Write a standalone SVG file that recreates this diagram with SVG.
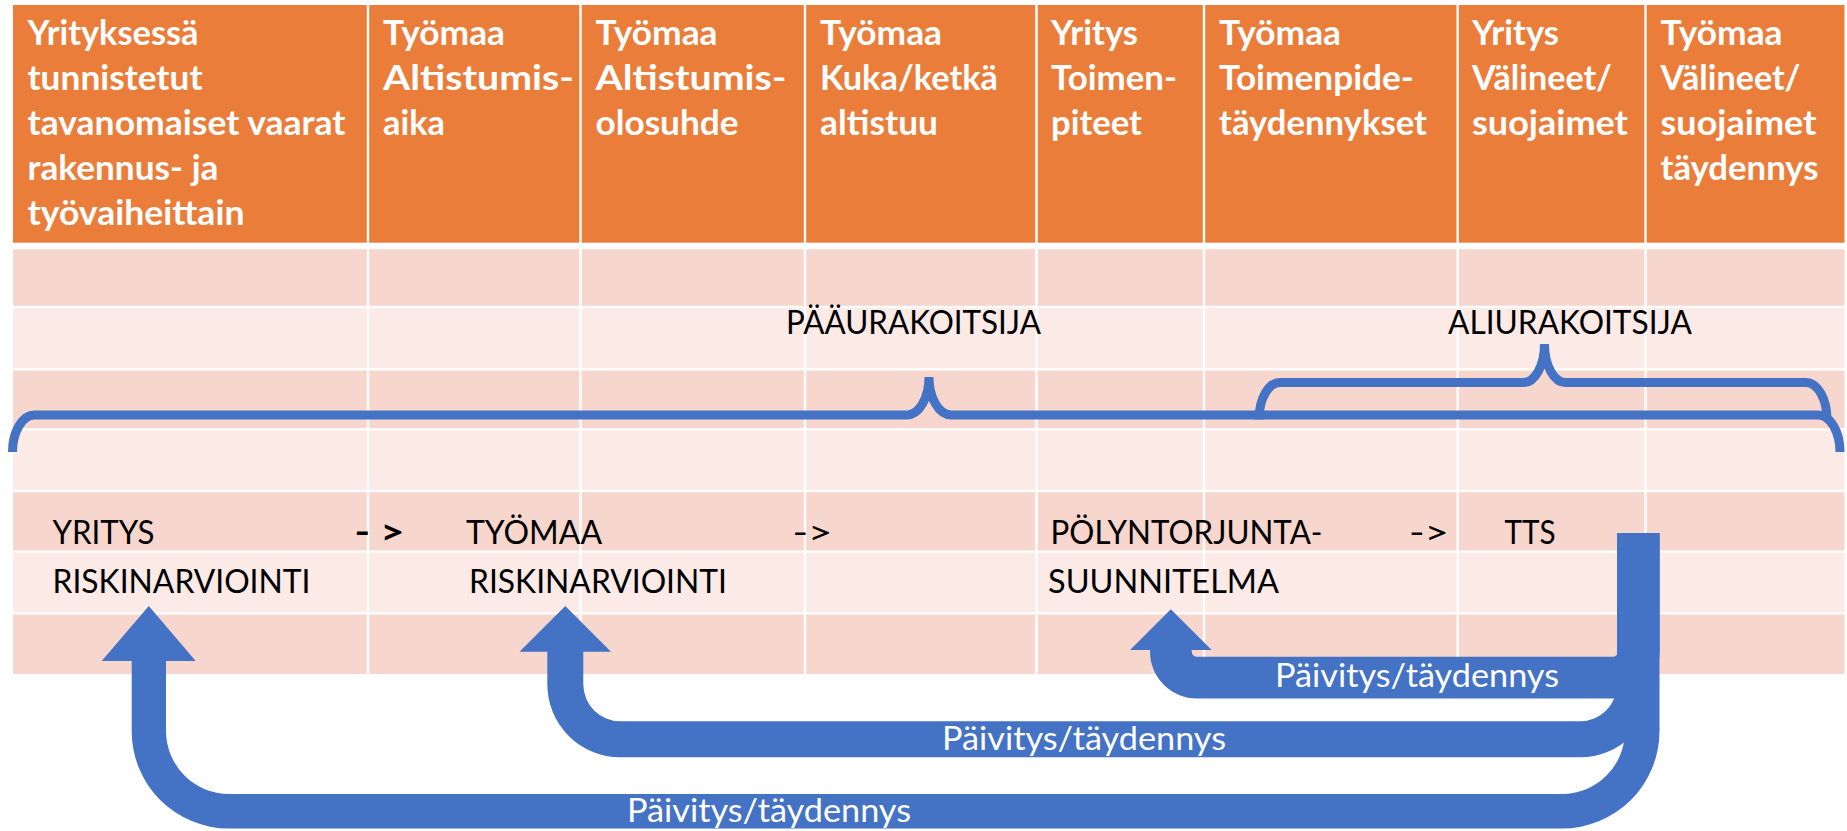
<svg xmlns="http://www.w3.org/2000/svg" width="1847" height="831" viewBox="0 0 1847 831">
<style>
.hdr{font-family:Lato,"Liberation Sans",sans-serif;font-weight:700;font-size:33.5px;fill:#fff}
.lbl{font-family:Lato,"Liberation Sans",sans-serif;font-size:33.5px;fill:#000}
.bold{font-weight:700}
.bartxt{font-family:Lato,"Liberation Sans",sans-serif;font-size:32.5px;fill:#fff}
.dark{fill:#F7D6CD}
.light{fill:#FBEAE6}
.head{fill:#EB7D3B}
.div{stroke:#fff;stroke-width:2.4}
.brace{fill:none;stroke:#4472C4;stroke-width:9;stroke-linejoin:miter;stroke-miterlimit:4}
.arrow{fill:#4472C4}
</style>
<rect width="1847" height="831" fill="#fff"/>
<g id="table">
  <rect class="head" x="13" y="5" width="1831.5" height="237.7"/>
  <rect class="dark" x="13" y="249.3" width="1831.5" height="56.5"/>
  <rect class="light" x="13" y="308.2" width="1831.5" height="60"/>
  <rect class="dark" x="13" y="370.5" width="1831.5" height="57.7"/>
  <rect class="light" x="13" y="430.5" width="1831.5" height="59.4"/>
  <rect class="dark" x="13" y="492.2" width="1831.5" height="58.3"/>
  <rect class="light" x="13" y="552.8" width="1831.5" height="59.4"/>
  <rect class="dark" x="13" y="614.5" width="1831.5" height="59.5"/>
  <g class="div">
    <line x1="368" y1="5" x2="368" y2="674"/>
    <line x1="580.5" y1="5" x2="580.5" y2="674"/>
    <line x1="805" y1="5" x2="805" y2="674"/>
    <line x1="1036.5" y1="5" x2="1036.5" y2="674"/>
    <line x1="1204" y1="5" x2="1204" y2="674"/>
    <line x1="1457.7" y1="5" x2="1457.7" y2="674"/>
    <line x1="1645.5" y1="5" x2="1645.5" y2="674"/>
  </g>
</g>
<g id="h1" class="hdr">
  <text x="27.5" y="45" textLength="171" lengthAdjust="spacingAndGlyphs">Yrityksessä</text>
  <text x="27.5" y="90" textLength="175" lengthAdjust="spacingAndGlyphs">tunnistetut</text>
  <text x="27.5" y="135" textLength="318" lengthAdjust="spacingAndGlyphs">tavanomaiset vaarat</text>
  <text x="27.5" y="180" textLength="191" lengthAdjust="spacingAndGlyphs">rakennus- ja</text>
  <text x="27.5" y="225" textLength="217" lengthAdjust="spacingAndGlyphs">työvaiheittain</text>
</g>
<g id="h2" class="hdr">
  <text x="383" y="45" textLength="122" lengthAdjust="spacingAndGlyphs">Työmaa</text>
  <text x="383" y="90" textLength="191" lengthAdjust="spacingAndGlyphs">Altistumis-</text>
  <text x="383" y="135" textLength="62" lengthAdjust="spacingAndGlyphs">aika</text>
</g>
<g id="h3" class="hdr">
  <text x="595.5" y="45" textLength="122" lengthAdjust="spacingAndGlyphs">Työmaa</text>
  <text x="595.5" y="90" textLength="191" lengthAdjust="spacingAndGlyphs">Altistumis-</text>
  <text x="595.5" y="135" textLength="143" lengthAdjust="spacingAndGlyphs">olosuhde</text>
</g>
<g id="h4" class="hdr">
  <text x="820" y="45" textLength="122" lengthAdjust="spacingAndGlyphs">Työmaa</text>
  <text x="820" y="90" textLength="178" lengthAdjust="spacingAndGlyphs">Kuka/ketkä</text>
  <text x="820" y="135" textLength="118" lengthAdjust="spacingAndGlyphs">altistuu</text>
</g>
<g id="h5" class="hdr">
  <text x="1051" y="45" textLength="87" lengthAdjust="spacingAndGlyphs">Yritys</text>
  <text x="1051" y="90" textLength="126" lengthAdjust="spacingAndGlyphs">Toimen-</text>
  <text x="1051" y="135" textLength="91" lengthAdjust="spacingAndGlyphs">piteet</text>
</g>
<g id="h6" class="hdr">
  <text x="1219" y="45" textLength="122" lengthAdjust="spacingAndGlyphs">Työmaa</text>
  <text x="1219" y="90" textLength="195" lengthAdjust="spacingAndGlyphs">Toimenpide-</text>
  <text x="1219" y="135" textLength="208" lengthAdjust="spacingAndGlyphs">täydennykset</text>
</g>
<g id="h7" class="hdr">
  <text x="1472" y="45" textLength="87" lengthAdjust="spacingAndGlyphs">Yritys</text>
  <text x="1472" y="90" textLength="140" lengthAdjust="spacingAndGlyphs">Välineet/</text>
  <text x="1472" y="135" textLength="156" lengthAdjust="spacingAndGlyphs">suojaimet</text>
</g>
<g id="h8" class="hdr">
  <text x="1660.5" y="45" textLength="122" lengthAdjust="spacingAndGlyphs">Työmaa</text>
  <text x="1660.5" y="90" textLength="140" lengthAdjust="spacingAndGlyphs">Välineet/</text>
  <text x="1660.5" y="135" textLength="156" lengthAdjust="spacingAndGlyphs">suojaimet</text>
  <text x="1660.5" y="180" textLength="158" lengthAdjust="spacingAndGlyphs">täydennys</text>
</g>
<g id="paaurakoitsija" class="lbl">
  <text x="786" y="334" textLength="255" lengthAdjust="spacingAndGlyphs">PÄÄURAKOITSIJA</text>
</g>
<g id="aliurakoitsija" class="lbl">
  <text x="1448" y="334" textLength="244" lengthAdjust="spacingAndGlyphs">ALIURAKOITSIJA</text>
</g>
<g id="braces">
  <path class="brace" d="M 12.5 452 A 22 37 0 0 1 34.5 415 L 907 415 A 22 38 0 0 0 929 377 A 22 38 0 0 0 951 415 L 1818 415 A 22 37 0 0 1 1840 452"/>
  <path class="brace" d="M 1259 419.5 A 21 37 0 0 1 1280 382.5 L 1523.5 382.5 A 21 38.5 0 0 0 1544.5 344 A 21 38.5 0 0 0 1565.5 382.5 L 1806 382.5 A 21 37 0 0 1 1827 419.5"/>
</g>
<g id="yritys-riski" class="lbl">
  <text x="52.5" y="544" textLength="102" lengthAdjust="spacingAndGlyphs">YRITYS</text>
  <text x="52.5" y="593" textLength="258" lengthAdjust="spacingAndGlyphs">RISKINARVIOINTI</text>
</g>
<g id="tyomaa-riski" class="lbl">
  <text x="466" y="544" textLength="136" lengthAdjust="spacingAndGlyphs">TYÖMAA</text>
  <text x="469" y="593" textLength="258" lengthAdjust="spacingAndGlyphs">RISKINARVIOINTI</text>
</g>
<g id="polyntorjunta" class="lbl">
  <text x="1050.5" y="544" textLength="272" lengthAdjust="spacingAndGlyphs">PÖLYNTORJUNTA-</text>
  <text x="1048" y="593" textLength="231" lengthAdjust="spacingAndGlyphs">SUUNNITELMA</text>
</g>
<g id="tts" class="lbl">
  <text x="1504.5" y="544" textLength="51" lengthAdjust="spacingAndGlyphs">TTS</text>
</g>
<g id="connectors">
  <text class="lbl bold" x="354.5" y="544" textLength="50" lengthAdjust="spacingAndGlyphs">- &gt;</text>
  <text class="lbl" x="792.5" y="544" textLength="40" lengthAdjust="spacingAndGlyphs">-&gt;</text>
  <text class="lbl" x="1409" y="544" textLength="40" lengthAdjust="spacingAndGlyphs">-&gt;</text>
  <path class="arrow" d="M 148.8 606 L 195.7 661 L 166 661 L 166 731 A 63 63 0 0 0 229 794 L 1562 794 A 63 63 0 0 0 1625 731 L 1625 533 L 1659.5 533 L 1659.5 731 A 97.5 97.5 0 0 1 1562 828.5 L 229 828.5 A 97.3 97.3 0 0 1 131.7 731 L 131.7 661 L 101.7 661 Z"/>
  <path class="arrow" d="M 565.3 606 L 611 651.7 L 583.3 651.7 L 583.3 684.3 A 37 37 0 0 0 620.3 721.3 L 1580 721.3 A 37 37 0 0 0 1617 684.3 L 1617 533 L 1653 533 L 1653 684.3 A 73 73 0 0 1 1580 757.3 L 620.3 757.3 A 73 73 0 0 1 547.3 684.3 L 547.3 651.7 L 519.5 651.7 Z"/>
  <path class="arrow" d="M 1170.8 609.3 L 1211.7 650 L 1191.7 650 L 1191.7 651.5 A 5.3 5.3 0 0 0 1197 656.8 L 1612.7 656.8 A 5.3 5.3 0 0 0 1618 651.5 L 1618 533 L 1659.7 533 L 1659.7 651.5 A 47 47 0 0 1 1612.7 698.5 L 1197 698.5 A 47 47 0 0 1 1150 651.5 L 1150 650 L 1130 650 Z"/>
  <text class="bartxt" x="1275" y="686.7" textLength="284" lengthAdjust="spacingAndGlyphs">Päivitys/täydennys</text>
  <text class="bartxt" x="942" y="750" textLength="284" lengthAdjust="spacingAndGlyphs">Päivitys/täydennys</text>
  <text class="bartxt" x="627" y="821.7" textLength="284" lengthAdjust="spacingAndGlyphs">Päivitys/täydennys</text>
</g>
</svg>
